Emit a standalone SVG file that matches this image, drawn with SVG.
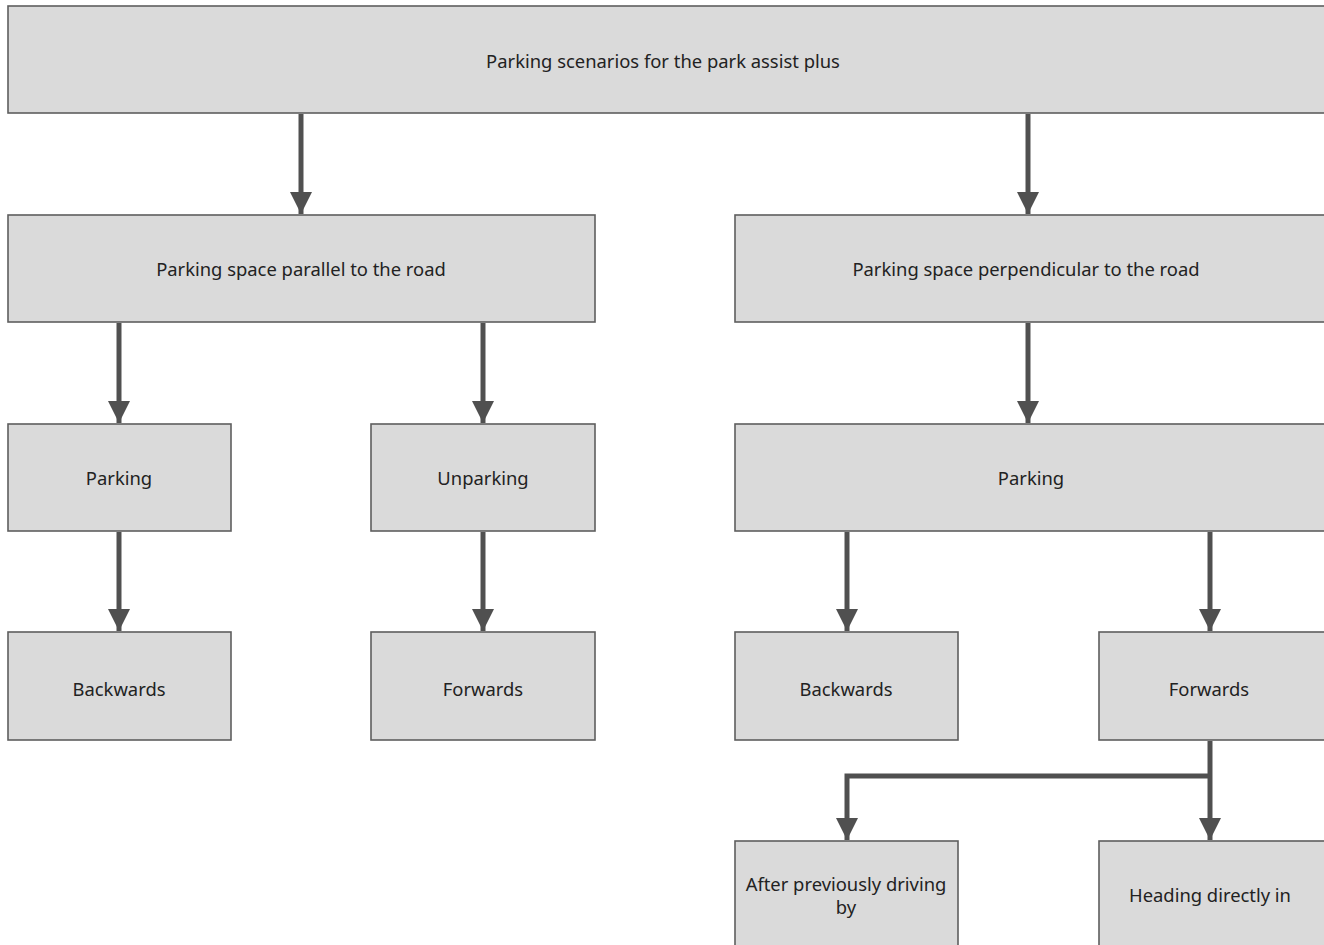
<svg xmlns="http://www.w3.org/2000/svg" width="1324" height="945" viewBox="0 0 1324 945">
<style>
.box{fill:#dadada;stroke:#5e5e5e;stroke-width:1.6}
.lbl{font-family:"Noto Sans","Open Sans",sans-serif;font-size:18.4px;fill:#222222;text-anchor:middle;dominant-baseline:central}
.con{stroke:#505050;stroke-width:5;fill:none}
</style>
<defs>
<marker id="ah" markerUnits="userSpaceOnUse" markerWidth="22" markerHeight="26" refX="22" refY="11" orient="auto">
<path d="M0,0 L22,11 L0,22 Z" fill="#505050"/>
</marker>
</defs>
<rect width="1324" height="945" fill="#ffffff"/>
<g id="connectors">
<line class="con" x1="301" y1="114" x2="301" y2="214" marker-end="url(#ah)"/>
<line class="con" x1="1028" y1="114" x2="1028" y2="214" marker-end="url(#ah)"/>
<line class="con" x1="119" y1="323" x2="119" y2="423" marker-end="url(#ah)"/>
<line class="con" x1="483" y1="323" x2="483" y2="423" marker-end="url(#ah)"/>
<line class="con" x1="1028" y1="323" x2="1028" y2="423" marker-end="url(#ah)"/>
<line class="con" x1="119" y1="532" x2="119" y2="631" marker-end="url(#ah)"/>
<line class="con" x1="483" y1="532" x2="483" y2="631" marker-end="url(#ah)"/>
<line class="con" x1="847" y1="532" x2="847" y2="631" marker-end="url(#ah)"/>
<line class="con" x1="1210" y1="532" x2="1210" y2="631" marker-end="url(#ah)"/>
<line class="con" x1="1210" y1="741" x2="1210" y2="840" marker-end="url(#ah)"/>
<polyline class="con" points="1210,776 847,776 847,840" marker-end="url(#ah)"/>
</g>
<g id="n-root"><rect class="box" x="8" y="6" width="1320" height="107"/><text class="lbl" x="663" y="60">Parking scenarios for the park assist plus</text></g>
<g id="n-parallel"><rect class="box" x="8" y="215" width="587" height="107"/><text class="lbl" x="301" y="268">Parking space parallel to the road</text></g>
<g id="n-perp"><rect class="box" x="735" y="215" width="593" height="107"/><text class="lbl" x="1026" y="268">Parking space perpendicular to the road</text></g>
<g id="n-par-parking"><rect class="box" x="8" y="424" width="223" height="107"/><text class="lbl" x="119" y="477">Parking</text></g>
<g id="n-unparking"><rect class="box" x="371" y="424" width="224" height="107"/><text class="lbl" x="483" y="477">Unparking</text></g>
<g id="n-perp-parking"><rect class="box" x="735" y="424" width="593" height="107"/><text class="lbl" x="1031" y="477">Parking</text></g>
<g id="n-back1"><rect class="box" x="8" y="632" width="223" height="108"/><text class="lbl" x="119" y="688">Backwards</text></g>
<g id="n-fwd1"><rect class="box" x="371" y="632" width="224" height="108"/><text class="lbl" x="483" y="688">Forwards</text></g>
<g id="n-back2"><rect class="box" x="735" y="632" width="223" height="108"/><text class="lbl" x="846" y="688">Backwards</text></g>
<g id="n-fwd2"><rect class="box" x="1099" y="632" width="229" height="108"/><text class="lbl" x="1209" y="688">Forwards</text></g>
<g id="n-after"><rect class="box" x="735" y="841" width="223" height="110"/><text class="lbl" x="846" y="883">After previously driving</text><text class="lbl" x="846" y="906">by</text></g>
<g id="n-heading"><rect class="box" x="1099" y="841" width="229" height="110"/><text class="lbl" x="1210" y="894">Heading directly in</text></g>
</svg>
